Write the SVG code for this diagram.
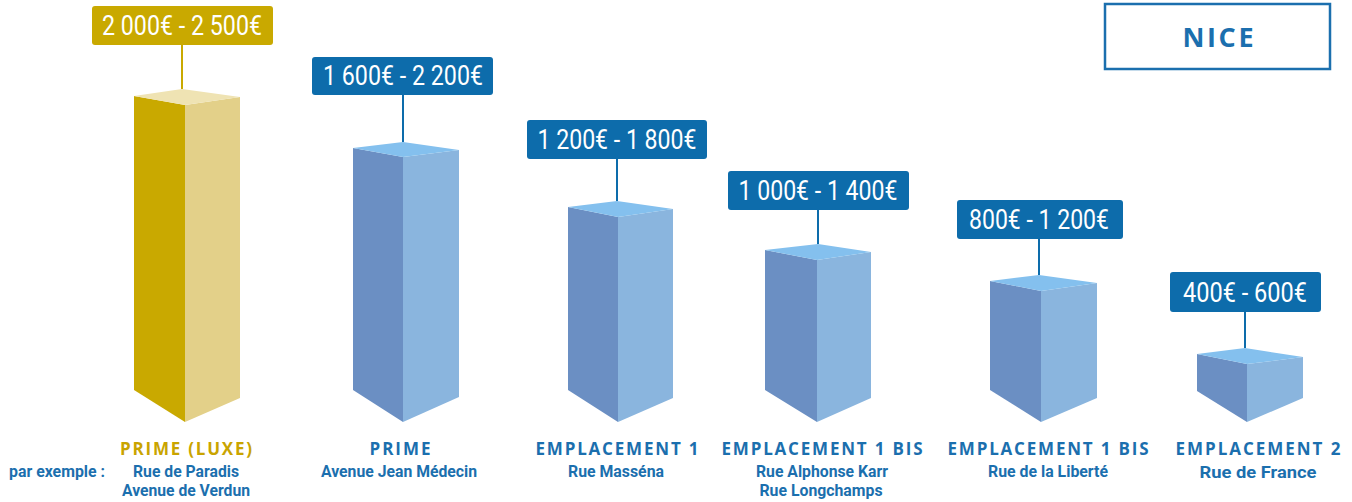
<svg xmlns="http://www.w3.org/2000/svg" width="1352" height="502" viewBox="0 0 1352 502">
<style>
.bg{fill:#ffffff}
.gl{fill:#c9a900}.gr{fill:#e3d089}.gt{fill:#efe3b3}
.bl{fill:#6b8fc3}.br{fill:#8ab5de}.bt{fill:#84c0ee}
.pb{fill:#0d6cab}.pg{fill:#c9a900}
.pt{font-family:"Liberation Sans Narrow","Roboto","Liberation Sans",sans-serif;font-size:28px;fill:#ffffff;text-anchor:middle}
.cat{font-family:"Open Sans","Noto Sans",sans-serif;font-weight:700;font-size:17px;fill:#1b6fae;text-anchor:middle}
.catg{fill:#c9a400}
.sub{font-family:"Liberation Sans Narrow","Roboto","Liberation Sans",sans-serif;font-weight:700;font-size:16px;fill:#1b6fae;text-anchor:middle}
.conb{stroke:#0d6cab;stroke-width:2;fill:none}
.cong{stroke:#c9a900;stroke-width:2;fill:none}
</style>
<rect class="bg" x="0" y="0" width="1352" height="502"/>

<g id="title">
<rect x="1105" y="4" width="225" height="65" fill="#ffffff" stroke="#1b6fae" stroke-width="2.5"/>
<text x="1218" y="47" font-family="Open Sans, Noto Sans, sans-serif" font-weight="700" font-size="27" fill="#1b6fae" text-anchor="middle" textLength="71" lengthAdjust="spacing">NICE</text>
</g>

<g id="connectors">
<line class="cong" x1="182" y1="45" x2="182" y2="89"/>
<line class="conb" x1="403" y1="95" x2="403" y2="142"/>
<line class="conb" x1="617" y1="159" x2="617" y2="201"/>
<line class="conb" x1="818" y1="210" x2="818" y2="244"/>
<line class="conb" x1="1039" y1="239" x2="1039" y2="275"/>
<line class="conb" x1="1245" y1="312" x2="1245" y2="348"/>
</g>

<g id="bar1">
<polygon class="gl" points="134,96 185,105 185,422 134,390"/>
<polygon class="gr" points="185,105 240,97 240,398 185,422"/>
<polygon class="gt" points="134,96 182,89 240,97 185,105"/>
<rect class="pg" x="92" y="6" width="181" height="39" rx="3"/>
<text class="pt" x="182" y="35" textLength="160" lengthAdjust="spacingAndGlyphs">2 000€ - 2 500€</text>
<text class="cat catg" x="186" y="455" textLength="132" lengthAdjust="spacing">PRIME (LUXE)</text>
<text class="sub" x="186" y="477" textLength="106" lengthAdjust="spacingAndGlyphs">Rue de Paradis</text>
<text class="sub" x="186" y="496" textLength="128" lengthAdjust="spacingAndGlyphs">Avenue de Verdun</text>
</g>

<g id="bar2">
<polygon class="bl" points="353,148 403,157 403,422 353,390"/>
<polygon class="br" points="403,157 459,150 459,397 403,422"/>
<polygon class="bt" points="353,148 403,142 459,150 403,157"/>
<rect class="pb" x="312" y="57" width="181" height="38" rx="3"/>
<text class="pt" x="403" y="85" textLength="160" lengthAdjust="spacingAndGlyphs">1 600€ - 2 200€</text>
<text class="cat" x="400" y="455" textLength="61" lengthAdjust="spacing">PRIME</text>
<text class="sub" x="399" y="477" textLength="156" lengthAdjust="spacingAndGlyphs">Avenue Jean Médecin</text>
</g>

<g id="bar3">
<polygon class="bl" points="568,207 618,217 618,422 568,390"/>
<polygon class="br" points="618,217 673,209 673,398 618,422"/>
<polygon class="bt" points="568,207 617,201 673,209 618,217"/>
<rect class="pb" x="527" y="120" width="180" height="39" rx="3"/>
<text class="pt" x="617" y="149" textLength="159" lengthAdjust="spacingAndGlyphs">1 200€ - 1 800€</text>
<text class="cat" x="617" y="455" textLength="163" lengthAdjust="spacing">EMPLACEMENT 1</text>
<text class="sub" x="616" y="477" textLength="96" lengthAdjust="spacingAndGlyphs">Rue Masséna</text>
</g>

<g id="bar4">
<polygon class="bl" points="765,250 817,260 817,422 765,390"/>
<polygon class="br" points="817,260 871,252 871,398 817,422"/>
<polygon class="bt" points="765,250 818,244 871,252 817,260"/>
<rect class="pb" x="728" y="171" width="181" height="39" rx="3"/>
<text class="pt" x="818" y="200" textLength="159" lengthAdjust="spacingAndGlyphs">1 000€ - 1 400€</text>
<text class="cat" x="822" y="455" textLength="201" lengthAdjust="spacing">EMPLACEMENT 1 BIS</text>
<text class="sub" x="822" y="477" textLength="132" lengthAdjust="spacingAndGlyphs">Rue Alphonse Karr</text>
<text class="sub" x="821" y="496" textLength="123" lengthAdjust="spacingAndGlyphs">Rue Longchamps</text>
</g>

<g id="bar5">
<polygon class="bl" points="990,281 1041,291 1041,422 990,390"/>
<polygon class="br" points="1041,291 1097,283 1097,398 1041,422"/>
<polygon class="bt" points="990,281 1039,275 1097,283 1041,291"/>
<rect class="pb" x="957" y="200" width="166" height="39" rx="3"/>
<text class="pt" x="1039" y="229" textLength="140" lengthAdjust="spacingAndGlyphs">800€ - 1 200€</text>
<text class="cat" x="1048" y="455" textLength="201" lengthAdjust="spacing">EMPLACEMENT 1 BIS</text>
<text class="sub" x="1048" y="477" textLength="120" lengthAdjust="spacingAndGlyphs">Rue de la Liberté</text>
</g>

<g id="bar6">
<polygon class="bl" points="1197,354 1247,364 1247,422 1197,391"/>
<polygon class="br" points="1247,364 1303,357 1303,398 1247,422"/>
<polygon class="bt" points="1197,354 1245,348 1303,357 1247,364"/>
<rect class="pb" x="1170" y="272" width="151" height="40" rx="3"/>
<text class="pt" x="1245" y="302" textLength="124" lengthAdjust="spacingAndGlyphs">400€ - 600€</text>
<text class="cat" x="1258" y="455" textLength="165" lengthAdjust="spacing">EMPLACEMENT 2</text>
<text class="sub" x="1258" y="478" font-size="18" textLength="117" lengthAdjust="spacingAndGlyphs">Rue de France</text>
</g>

<g id="note">
<text class="sub" x="57" y="477" textLength="96" lengthAdjust="spacingAndGlyphs">par exemple :</text>
</g>
</svg>
